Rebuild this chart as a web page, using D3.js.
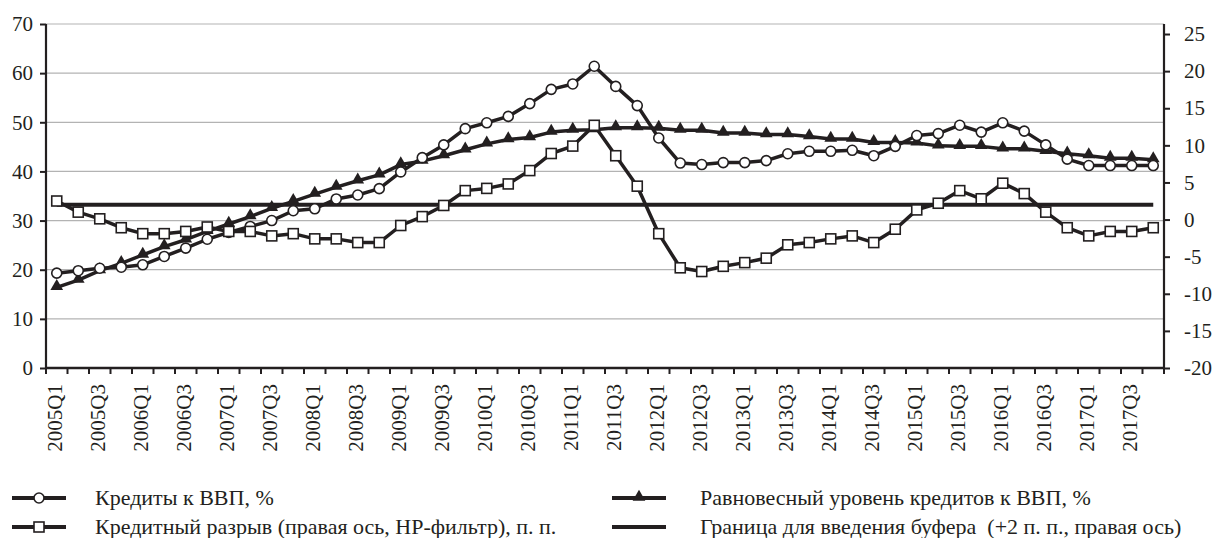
<!DOCTYPE html>
<html>
<head>
<meta charset="utf-8">
<script src="https://cdn.jsdelivr.net/npm/d3@7"></script>
<style>
	body { margin: 0; background: #fff; }
</style>
</head>
<body>
<script>
/* ---------- data ---------- */
var quarters = [
	"2005Q1","2005Q2","2005Q3","2005Q4","2006Q1","2006Q2","2006Q3","2006Q4",
	"2007Q1","2007Q2","2007Q3","2007Q4","2008Q1","2008Q2","2008Q3","2008Q4",
	"2009Q1","2009Q2","2009Q3","2009Q4","2010Q1","2010Q2","2010Q3","2010Q4",
	"2011Q1","2011Q2","2011Q3","2011Q4","2012Q1","2012Q2","2012Q3","2012Q4",
	"2013Q1","2013Q2","2013Q3","2013Q4","2014Q1","2014Q2","2014Q3","2014Q4",
	"2015Q1","2015Q2","2015Q3","2015Q4","2016Q1","2016Q2","2016Q3","2016Q4",
	"2017Q1","2017Q2","2017Q3","2017Q4"
];

// Кредиты к ВВП, % (left axis)
var creditToGdp = [
	19.3, 19.8, 20.3, 20.5, 21.0, 22.7, 24.4, 26.2,
	27.6, 28.8, 30.0, 32.0, 32.4, 34.4, 35.2, 36.5,
	39.9, 42.8, 45.4, 48.7, 49.9, 51.2, 53.8, 56.7,
	57.8, 61.4, 57.3, 53.4, 46.8, 41.7, 41.4, 41.8,
	41.8, 42.2, 43.6, 44.1, 44.1, 44.3, 43.2, 45.1,
	47.3, 47.7, 49.4, 48.0, 49.9, 48.2, 45.4, 42.5,
	41.2, 41.2, 41.2, 41.2
];

// Равновесный уровень кредитов к ВВП, % (left axis)
var equilibrium = [
	16.4, 17.9, 19.8, 21.3, 23.0, 24.7, 26.1, 27.8,
	29.3, 30.8, 32.5, 33.9, 35.4, 36.8, 38.1, 39.3,
	41.4, 42.1, 43.2, 44.4, 45.6, 46.5, 46.9, 48.0,
	48.4, 48.5, 48.9, 48.9, 48.8, 48.4, 48.4, 47.8,
	47.8, 47.5, 47.5, 47.1, 46.6, 46.6, 45.9, 45.9,
	45.8, 45.2, 45.1, 45.1, 44.6, 44.6, 44.1, 43.6,
	43.2, 42.7, 42.7, 42.4
];

// Кредитный разрыв (правая ось, HP-фильтр), п. п. (right axis)
var creditGap = [
	2.5, 1.0, 0.1, -1.1, -1.9, -1.9, -1.6, -1.0,
	-1.6, -1.6, -2.2, -1.9, -2.6, -2.6, -3.1, -3.1,
	-0.8, 0.4, 1.9, 3.9, 4.2, 4.8, 6.6, 8.9,
	9.9, 12.7, 8.6, 4.5, -1.9, -6.5, -7.0, -6.3,
	-5.8, -5.2, -3.4, -3.1, -2.6, -2.2, -3.1, -1.3,
	1.3, 2.2, 3.9, 2.8, 4.9, 3.5, 1.0, -1.1,
	-2.2, -1.6, -1.6, -1.1
];

// Граница для введения буфера (+2 п. п., правая ось)
var bufferLevel = 2;

var leftTicks = [0, 10, 20, 30, 40, 50, 60, 70];
var rightTicks = [-20, -15, -10, -5, 0, 5, 10, 15, 20, 25];

var legendItems = [
	{ label: "Кредиты к ВВП, %", marker: "circle" },
	{ label: "Кредитный разрыв (правая ось, HP-фильтр), п. п.", marker: "square" },
	{ label: "Равновесный уровень кредитов к ВВП, %", marker: "triangle" },
	{ label: "Граница для введения буфера  (+2 п. п., правая ось)", marker: "none" }
];

/* ---------- layout ---------- */
var W = 1216, H = 538;
var plotL = 46, plotR = 1164, plotT = 24, plotB = 368;
var ink = "#231f20";
var serif = "Liberation Serif";
var tickFont = 21, legendFont = 22;

var svg = d3.select("body").append("svg")
	.attr("width", W)
	.attr("height", H)
	.attr("font-family", serif);

var x = d3.scaleBand()
	.domain(quarters)
	.range([plotL, plotR]);

var yLeft = d3.scaleLinear()
	.domain([0, 70])
	.range([plotB, plotT]);

// right axis: -20 at the bottom, 25 sits a little below the top gridline
var yRight = d3.scaleLinear()
	.domain([-20, 26.35])
	.range([plotB, plotT]);

var cx = function(d, i) { return x(quarters[i]) + x.bandwidth() / 2; };

/* gridlines */
svg.append("g")
	.selectAll("line")
	.data(leftTicks.slice(1))
	.enter()
	.append("line")
	.attr("x1", plotL)
	.attr("x2", plotR)
	.attr("y1", function(d) { return yLeft(d); })
	.attr("y2", function(d) { return yLeft(d); })
	.attr("stroke", "#b3b3b3")
	.attr("stroke-width", 1.2);

/* axes */
var leftAxis = svg.append("g")
	.attr("transform", "translate(" + plotL + ",0)")
	.call(d3.axisLeft(yLeft).tickValues(leftTicks).tickSize(6).tickPadding(7));

var rightAxis = svg.append("g")
	.attr("transform", "translate(" + plotR + ",0)")
	.call(d3.axisRight(yRight).tickValues(rightTicks).tickSize(6).tickPadding(14)
		.tickFormat(function(d) { return String(d); }));

[leftAxis, rightAxis].forEach(function(g) {
	g.attr("font-family", serif).attr("font-size", tickFont);
	g.select(".domain").attr("stroke", ink).attr("stroke-width", 2.2)
		.attr("d", "M0," + plotB + "V" + plotT);
	g.selectAll(".tick line").attr("stroke", ink).attr("stroke-width", 2);
	g.selectAll(".tick text")
		.attr("fill", ink)
		.attr("font-family", serif)
		.attr("font-size", tickFont);
});

// x axis: ticks on quarter boundaries, labels every second quarter
var xg = svg.append("g");
xg.append("line")
	.attr("x1", plotL).attr("x2", plotR)
	.attr("y1", plotB).attr("y2", plotB)
	.attr("stroke", ink).attr("stroke-width", 2.4);

var bounds = quarters.map(function(q) { return x(q); }).concat([plotR]);
xg.selectAll("line.tk")
	.data(bounds)
	.enter()
	.append("line")
	.attr("class", "tk")
	.attr("x1", function(d) { return d; })
	.attr("x2", function(d) { return d; })
	.attr("y1", plotB)
	.attr("y2", plotB + 6)
	.attr("stroke", ink)
	.attr("stroke-width", 2);

xg.selectAll("text")
	.data(quarters.filter(function(q, i) { return i % 2 === 0; }))
	.enter()
	.append("text")
	.text(function(d) { return d; })
	.attr("transform", function(d) {
		return "translate(" + (x(d) + x.bandwidth() / 2 + 5.5) + "," + (plotB + 16) + ") rotate(-90)";
	})
	.attr("text-anchor", "end")
	.attr("fill", ink)
	.attr("font-family", serif)
	.attr("font-size", tickFont);

/* ---------- series ---------- */
function seriesLine(scale) {
	return d3.line()
		.x(cx)
		.y(function(d) { return scale(d); });
}

// buffer threshold
svg.append("line")
	.attr("x1", x(quarters[0]) + x.bandwidth() / 2)
	.attr("x2", x(quarters[quarters.length - 1]) + x.bandwidth() / 2)
	.attr("y1", yRight(bufferLevel))
	.attr("y2", yRight(bufferLevel))
	.attr("stroke", ink)
	.attr("stroke-width", 4);

// equilibrium, triangles
svg.append("path")
	.datum(equilibrium)
	.attr("d", seriesLine(yLeft))
	.attr("fill", "none")
	.attr("stroke", ink)
	.attr("stroke-width", 3.5)
	.attr("stroke-linejoin", "round");

var tri = d3.symbol().type(d3.symbolTriangle).size(70);
svg.append("g")
	.selectAll("path")
	.data(equilibrium)
	.enter()
	.append("path")
	.attr("d", tri)
	.attr("transform", function(d, i) { return "translate(" + cx(d, i) + "," + (yLeft(d) - 1) + ")"; })
	.attr("fill", ink);

// credit / GDP, circles
svg.append("path")
	.datum(creditToGdp)
	.attr("d", seriesLine(yLeft))
	.attr("fill", "none")
	.attr("stroke", ink)
	.attr("stroke-width", 3.5)
	.attr("stroke-linejoin", "round");

svg.append("g")
	.selectAll("circle")
	.data(creditToGdp)
	.enter()
	.append("circle")
	.attr("cx", cx)
	.attr("cy", function(d) { return yLeft(d); })
	.attr("r", 5)
	.attr("fill", "#fff")
	.attr("stroke", ink)
	.attr("stroke-width", 1.6);

// credit gap, squares
svg.append("path")
	.datum(creditGap)
	.attr("d", seriesLine(yRight))
	.attr("fill", "none")
	.attr("stroke", ink)
	.attr("stroke-width", 3.5)
	.attr("stroke-linejoin", "round");

svg.append("g")
	.selectAll("rect")
	.data(creditGap)
	.enter()
	.append("rect")
	.attr("x", function(d, i) { return cx(d, i) - 5; })
	.attr("y", function(d) { return yRight(d) - 5; })
	.attr("width", 10)
	.attr("height", 10)
	.attr("fill", "#fff")
	.attr("stroke", ink)
	.attr("stroke-width", 1.6);

/* ---------- legend ---------- */
var legendPos = [[12, 498], [12, 527], [612, 498], [612, 527]];
var legend = svg.append("g")
	.selectAll("g")
	.data(legendItems)
	.enter()
	.append("g")
	.attr("transform", function(d, i) { return "translate(" + legendPos[i][0] + "," + legendPos[i][1] + ")"; });

legend.append("line")
	.attr("x1", 0).attr("x2", 54)
	.attr("y1", 0).attr("y2", 0)
	.attr("stroke", ink)
	.attr("stroke-width", 4);

legend.filter(function(d) { return d.marker === "circle"; })
	.append("circle")
	.attr("cx", 27).attr("cy", 0).attr("r", 5)
	.attr("fill", "#fff").attr("stroke", ink).attr("stroke-width", 1.6);

legend.filter(function(d) { return d.marker === "square"; })
	.append("rect")
	.attr("x", 22).attr("y", -5).attr("width", 10).attr("height", 10)
	.attr("fill", "#fff").attr("stroke", ink).attr("stroke-width", 1.6);

legend.filter(function(d) { return d.marker === "triangle"; })
	.append("path")
	.attr("d", tri)
	.attr("transform", "translate(27,-1)")
	.attr("fill", ink);

legend.append("text")
	.text(function(d) { return d.label; })
	.attr("x", function(d, i) { return i < 2 ? 83 : 88; })
	.attr("y", 7)
	.attr("fill", ink)
	.attr("font-family", serif)
	.attr("font-size", legendFont)
	.attr("xml:space", "preserve");
</script>
</body>
</html>
